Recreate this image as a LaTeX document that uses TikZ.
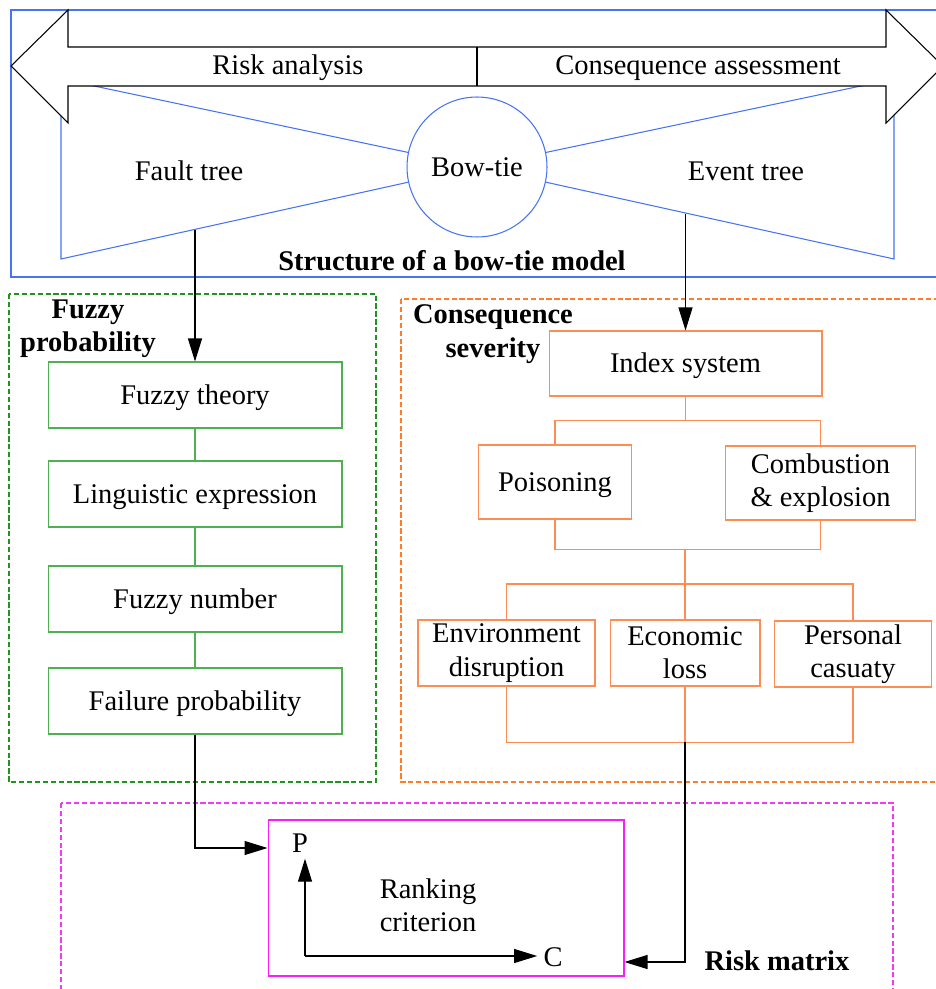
\documentclass[tikz,border=0pt]{standalone}
\usepackage{fontspec}
\setmainfont{Liberation Serif}
\usetikzlibrary{arrows.meta,calc}

\definecolor{tieblue}{RGB}{70,115,240}
\definecolor{fuzgreen}{RGB}{30,150,30}
\definecolor{boxgreen}{RGB}{80,175,80}
\definecolor{sevorange}{RGB}{255,125,40}
\definecolor{boxorange}{RGB}{255,140,80}
\definecolor{riskpink}{RGB}{240,60,240}
\definecolor{rankpink}{RGB}{250,30,250}

\tikzset{
    tieline/.style={draw=tieblue},
    oneline/.style={text height=14.3pt, text depth=3.6pt},
    fuzbox/.style={draw=boxgreen, minimum width=5.88cm, minimum height=1.32cm, inner sep=0pt, oneline},
    fuzline/.style={draw=boxgreen},
    sevbox/.style={draw=boxorange, align=center, inner sep=0pt},
    sevline/.style={draw=boxorange},
    frame/.style={dash pattern=on 3pt off 1.5pt},
    title/.style={font=\fontsize{16.2}{19}\selectfont\bfseries, align=center, inner sep=0pt}
}

\begin{document}
\begin{tikzpicture}[x=0.02cm, y=-0.02cm, line width=0.6pt,
    >={Triangle[length=0.46cm,width=0.28cm]},
    font=\fontsize{16.2}{19}\selectfont]
    \useasboundingbox (0,0) rectangle (935,989);

    % structure of the bow-tie
    \draw[tieline] (11,10) rectangle (950,277);
    \node[draw=tieblue, circle, minimum size=2.8cm, inner sep=0pt] (bowtie) at (477,167) {Bow-tie};
    \coordinate (ftA) at (61,79);
    \coordinate (ftB) at (61,259);
    \coordinate (etA) at (894,79);
    \coordinate (etB) at (894,259);
    \draw[tieline] (bowtie) -- (ftA) -- (ftB) -- (bowtie);
    \draw[tieline] (bowtie) -- (etA) -- (etB) -- (bowtie);

    \draw[fill=white] (11,66) -- (68,10) -- (68,47) -- (886,47) -- (886,10) -- (943,66)
        -- (886,123) -- (886,86) -- (68,86) -- (68,123) -- cycle;
    \draw (477,47) -- (477,86);
    \node (risk) at (288,68) {Risk analysis};
    \node (cons) at (698,68) {Consequence assessment};
    \node (fault) at (189,171) {Fault tree};
    \node (event) at (746,171) {Event tree};
    \node[title] (struct) at (452,261) {Structure of a bow-tie model};

    % fuzzy probability
    \draw[draw=fuzgreen, frame] (9,294) rectangle (376,782);
    \node[title] (fuzlabel) at (88,329) {Fuzzy\\probability};
    \node[fuzbox] (fuzzy) at (195,395) {Fuzzy theory};
    \node[fuzbox] (ling) at (195,494) {Linguistic expression};
    \node[fuzbox] (fnum) at (195,599) {Fuzzy number};
    \node[fuzbox] (fail) at (195,701) {Failure probability};
    \draw[fuzline] (fuzzy) -- (ling) -- (fnum) -- (fail);

    % consequence severity
    \draw[draw=sevorange, frame] (401,299) rectangle (950,782);
    \node[title] (sevlabel) at (493,334) {Consequence\\severity};
    \node[sevbox, oneline, minimum width=5.46cm, minimum height=1.3cm] (index) at (685.5,363.5) {Index system};
    \node[sevbox, oneline, minimum width=3.06cm, minimum height=1.48cm] (poison) at (555,482) {Poisoning};
    \node[sevbox, minimum width=3.8cm, minimum height=1.48cm] (comb) at (820.5,483) {Combustion\\\& explosion};
    \node[sevbox, minimum width=3.54cm, minimum height=1.32cm] (env) at (506.5,653) {Environment\\disruption};
    \node[sevbox, minimum width=3.0cm, minimum height=1.32cm] (eco) at (685,653) {Economic\\loss};
    \node[sevbox, minimum width=3.14cm, minimum height=1.32cm] (pers) at (853,654) {Personal\\casuaty};

    \draw[sevline] (index.south) -- ++(0,24) -| (poison.north);
    \draw[sevline] (index.south) ++(0,24) -| (comb.north);
    \draw[sevline] (poison.south) -- ++(0,30) -| (comb.south);
    \coordinate (sevMid) at (685,549);
    \coordinate (sevSplit) at (685,584);
    \draw[sevline] (sevMid) -- (sevSplit);
    \draw[sevline] (sevSplit) -| (env.north);
    \draw[sevline] (sevSplit) -| (pers.north);
    \draw[sevline] (sevSplit) -- (eco);
    \draw[sevline] (env.south) -- ++(0,56) -| (pers.south);
    \coordinate (sevOut) at (685,742);
    \draw[sevline] (eco) -- (sevOut);

    % risk matrix
    \draw[draw=riskpink, frame] (61,803) rectangle (893,1000);
    \node[title] (risklabel) at (777,961) {Risk matrix};
    \node[draw=rankpink, minimum width=7.12cm, minimum height=3.12cm] (rank) at (446,898) {};
    \node[align=center] (rankTxt) at (428,905) {Ranking\\criterion};
    \node (P) at (300,843) {P};
    \node (C) at (553,957) {C};
    \coordinate (axO) at (305,956);
    \draw[->] (axO) -- (axO |- P.south);
    \draw[->] (axO) -- (axO -| C.west);

    % links between the parts
    \coordinate (ftOut) at (195,230);
    \coordinate (etOut) at (685.5,214);
    \draw[->] (ftOut) -- (fuzzy);
    \draw[->] (etOut) -- (index);
    \draw[->] (fail) |- (rank.west |- 0,848);
    \draw[->] (sevOut) |- (rank.east |- 0,962);
\end{tikzpicture}
\end{document}
